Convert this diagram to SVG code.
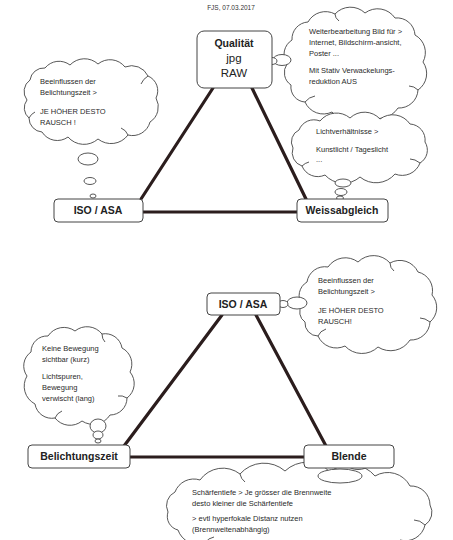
<svg xmlns="http://www.w3.org/2000/svg" width="453" height="540" viewBox="0 0 453 540">
<style>
.box{fill:#fff;stroke:#444;stroke-width:1}
.lbl{font-family:"Liberation Sans",Arial,sans-serif;font-weight:bold;font-size:10.5px;fill:#222;text-anchor:middle}
.big{font-family:"Liberation Sans",Arial,sans-serif;font-size:11.5px;fill:#222;text-anchor:middle}
.t{font-family:"Liberation Sans",Arial,sans-serif;font-size:7.5px;fill:#2a2a2a}
.cloud{fill:#fff;stroke:#444;stroke-width:0.9}
.hook{fill:none;stroke:#444;stroke-width:0.9}
.bub{fill:#fff;stroke:#444;stroke-width:0.9}
.edge{stroke:#2b1d1d;stroke-width:3.2;fill:none;stroke-linecap:round}
</style>
<rect width="453" height="540" fill="#fff"/>
<text x="231" y="10" font-family="Liberation Sans,Arial,sans-serif" font-size="6.5" fill="#333" text-anchor="middle">FJS, 07.03.2017</text>

<g id="connectors">
<line class="edge" x1="213" y1="88" x2="141" y2="199"/>
<line class="edge" x1="252" y1="88" x2="306" y2="199"/>
<line class="edge" x1="143" y1="212" x2="297" y2="212"/>
<line class="edge" x1="222" y1="315" x2="124" y2="446"/>
<line class="edge" x1="256" y1="315" x2="326" y2="446"/>
<line class="edge" x1="130" y1="457" x2="304" y2="457"/>
</g>

<g id="cloud-qualitaet">
<path class="cloud" d="M287,64 A17,17 0 0 1 292,40 A17,17 0 0 1 308,22 A20,20 0 0 1 335,14 A21,21 0 0 1 365,13 A21,21 0 0 1 395,18 A18,18 0 0 1 415,35 A20,20 0 0 1 423,62 A20,20 0 0 1 418,90 A19,19 0 0 1 398,108 A23,23 0 0 1 365,114 A23,23 0 0 1 332,112 A20,20 0 0 1 305,102 A15,15 0 0 1 291,85 A15,15 0 0 1 287,64 Z"/>
<path class="hook" d="M305,102 Q309,97 315,96"/>
<path class="hook" d="M418,90 Q414,86 409,86"/>
<path class="hook" d="M335,14 Q335,18 339,21"/>
<ellipse class="bub" cx="282" cy="60" rx="9" ry="5.5"/>
<ellipse class="bub" cx="272" cy="61" rx="5" ry="3.5"/>
<text class="t" x="309" y="34">Weiterbearbeitung Bild für &gt;</text>
<text class="t" x="309" y="45">Internet, Bildschirm-ansicht,</text>
<text class="t" x="309" y="56">Poster ...</text>
<text class="t" x="309" y="73">Mit Stativ Verwackelungs-</text>
<text class="t" x="309" y="84">reduktion AUS</text>
</g>

<g id="node-qualitaet">
<rect class="box" x="197" y="31" width="75" height="57" rx="7"/>
<text class="lbl" x="234" y="47" font-size="11.5">Qualität</text>
<text class="big" x="234" y="62">jpg</text>
<text class="big" x="234" y="77">RAW</text>
</g>

<g id="cloud-iso-top">
<path class="cloud" d="M27,100 A14,14 0 0 1 30,80 A14,14 0 0 1 45,68 A18,18 0 0 1 70,65 A20,20 0 0 1 98,64 A19,19 0 0 1 125,67 A18,18 0 0 1 148,76 A16,16 0 0 1 156,98 A18,18 0 0 1 150,122 A18,18 0 0 1 128,135 A21,21 0 0 1 98,139 A21,21 0 0 1 68,137 A18,18 0 0 1 42,132 A14,14 0 0 1 29,118 A13,13 0 0 1 27,100 Z"/>
<path class="hook" d="M148,76 Q143,79 141,84"/>
<path class="hook" d="M128,135 Q126,130 121,128"/>
<path class="hook" d="M29,118 Q31,114 35,112"/>
<ellipse class="bub" cx="88" cy="159" rx="10" ry="6"/>
<ellipse class="bub" cx="90" cy="181" rx="6" ry="3.5"/>
<ellipse class="bub" cx="93" cy="196" rx="3" ry="2"/>
<text class="t" x="40" y="84">Beeinflussen der</text>
<text class="t" x="40" y="95">Belichtungszeit &gt;</text>
<text class="t" x="40" y="114">JE HÖHER DESTO</text>
<text class="t" x="40" y="125">RAUSCH !</text>
</g>

<g id="cloud-weiss">
<path class="cloud" d="M293,148 A13,13 0 0 1 299,130 A16,16 0 0 1 320,121 A21,21 0 0 1 350,118 A21,21 0 0 1 380,119 A21,21 0 0 1 410,124 A16,16 0 0 1 425,142 A15,15 0 0 1 420,163 A19,19 0 0 1 395,174 A25,25 0 0 1 360,177 A25,25 0 0 1 325,175 A17,17 0 0 1 302,166 A14,14 0 0 1 293,148 Z"/>
<path class="hook" d="M302,166 Q305,163 309,162"/>
<path class="hook" d="M420,163 Q415,159 410,159"/>
<ellipse class="bub" cx="343" cy="183" rx="8" ry="4"/>
<ellipse class="bub" cx="341" cy="192" rx="6" ry="3.5"/>
<ellipse class="bub" cx="340" cy="198" rx="3.5" ry="2"/>
<text class="t" x="316" y="134">Lichtverhältnisse &gt;</text>
<text class="t" x="316" y="152">Kunstlicht / Tageslicht</text>
<text class="t" x="316" y="162">...</text>
</g>

<g id="node-iso-top">
<rect class="box" x="54" y="199" width="89" height="23" rx="4"/>
<text class="lbl" x="98" y="214">ISO / ASA</text>
</g>
<g id="node-weiss">
<rect class="box" x="297" y="199" width="91" height="23" rx="4"/>
<text class="lbl" x="342" y="214">Weissabgleich</text>
</g>

<g id="cloud-iso-bottom">
<path class="cloud" d="M302,305 A16,16 0 0 1 307,282 A18,18 0 0 1 328,267 A21,21 0 0 1 358,262 A22,22 0 0 1 390,263 A20,20 0 0 1 418,272 A19,19 0 0 1 432,295 A19,19 0 0 1 430,322 A19,19 0 0 1 410,340 A23,23 0 0 1 378,347 A23,23 0 0 1 345,346 A20,20 0 0 1 318,336 A13,13 0 0 1 305,322 A12,12 0 0 1 302,305 Z"/>
<path class="hook" d="M318,336 Q320,331 326,329"/>
<path class="hook" d="M430,322 Q425,318 420,318"/>
<path class="hook" d="M390,263 Q390,268 394,271"/>
<ellipse class="bub" cx="297" cy="303" rx="10" ry="6"/>
<ellipse class="bub" cx="283" cy="304" rx="5" ry="3.5"/>
<text class="t" x="318" y="283">Beeinflussen der</text>
<text class="t" x="318" y="294">Belichtungszeit &gt;</text>
<text class="t" x="318" y="313">JE HÖHER DESTO</text>
<text class="t" x="318" y="324">RAUSCH!</text>
</g>
<g id="node-iso-bottom">
<rect class="box" x="207" y="293" width="73" height="22" rx="4"/>
<text class="lbl" x="243" y="308">ISO / ASA</text>
</g>

<g id="cloud-belichtung">
<path class="cloud" d="M27,376 A17,17 0 0 1 31,352 A16,16 0 0 1 48,336 A19,19 0 0 1 75,331 A19,19 0 0 1 102,334 A17,17 0 0 1 122,348 A18,18 0 0 1 130,372 A18,18 0 0 1 127,398 A17,17 0 0 1 110,415 A20,20 0 0 1 82,421 A19,19 0 0 1 55,418 A17,17 0 0 1 35,404 A20,20 0 0 1 27,376 Z"/>
<path class="hook" d="M55,418 Q57,413 62,411"/>
<path class="hook" d="M127,398 Q122,395 118,396"/>
<path class="hook" d="M102,334 Q102,339 105,342"/>
<ellipse class="bub" cx="98" cy="426" rx="8" ry="7"/>
<ellipse class="bub" cx="98" cy="435" rx="5" ry="4"/>
<ellipse class="bub" cx="98" cy="441" rx="3" ry="2"/>
<text class="t" x="42" y="351">Keine Bewegung</text>
<text class="t" x="42" y="362">sichtbar (kurz)</text>
<text class="t" x="42" y="379">Lichtspuren,</text>
<text class="t" x="42" y="390">Bewegung</text>
<text class="t" x="42" y="401">verwischt (lang)</text>
</g>
<g id="node-belichtung">
<rect class="box" x="28" y="445" width="102" height="23" rx="4"/>
<text class="lbl" x="79" y="460">Belichtungszeit</text>
</g>

<g id="cloud-blende">
<path class="cloud" d="M168,512 A15,15 0 0 1 175,492 A20,20 0 0 1 200,480 A28,28 0 0 1 240,474 A32,32 0 0 1 285,471 A32,32 0 0 1 330,472 A32,32 0 0 1 375,476 A25,25 0 0 1 410,486 A19,19 0 0 1 430,505 A15,15 0 0 1 425,525 A20,20 0 0 1 400,540 A36,36 0 0 1 350,548 A35,35 0 0 1 300,550 A35,35 0 0 1 250,549 A32,32 0 0 1 205,543 A21,21 0 0 1 178,530 A14,14 0 0 1 168,512 Z"/>
<path class="hook" d="M205,543 Q208,538 214,537"/>
<path class="hook" d="M425,525 Q420,520 414,520"/>
<path class="hook" d="M240,474 Q241,479 245,482"/>
<path class="hook" d="M350,548 Q348,543 343,541"/>
<ellipse class="bub" cx="340" cy="476" rx="22" ry="7"/>
<ellipse class="bub" cx="358" cy="466" rx="9" ry="3.5"/>
<text class="t" x="192" y="495">Schärfentiefe &gt; Je grösser die Brennweite</text>
<text class="t" x="192" y="506">desto kleiner die Schärfentiefe</text>
<text class="t" x="192" y="521">&gt; evtl hyperfokale Distanz nutzen</text>
<text class="t" x="192" y="532">(Brennweitenabhängig)</text>
</g>
<g id="node-blende">
<rect class="box" x="304" y="445" width="90" height="23" rx="4"/>
<text class="lbl" x="349" y="460">Blende</text>
</g>
</svg>
